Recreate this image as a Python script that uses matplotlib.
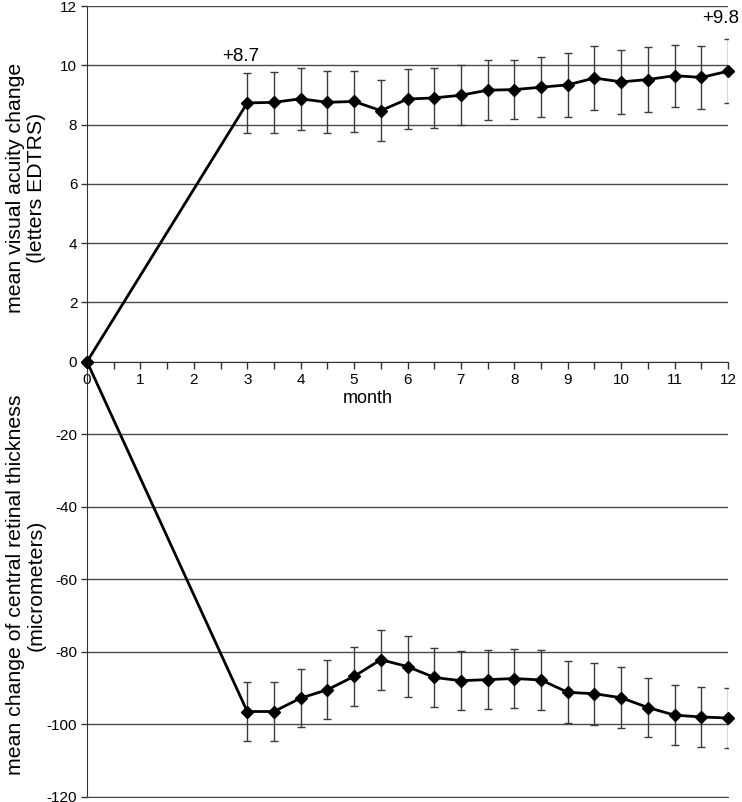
import matplotlib
matplotlib.use("Agg")
import matplotlib.pyplot as plt
import numpy as np
from matplotlib.ticker import MultipleLocator

plt.rcParams['font.family'] = ['Liberation Sans', 'DejaVu Sans']
plt.rcParams['axes.unicode_minus'] = False

# follow-up visits (months); 0 = baseline
months = [0, 3, 3.5, 4, 4.5, 5, 5.5, 6, 6.5, 7, 7.5, 8, 8.5, 9, 9.5, 10, 10.5, 11, 11.5, 12]

# visual acuity change (letters EDTRS) and error bar half widths
va_mean = [0, 8.73, 8.75, 8.87, 8.75, 8.78, 8.47, 8.86, 8.90, 8.99, 9.16,
           9.18, 9.26, 9.34, 9.57, 9.44, 9.52, 9.65, 9.59, 9.80]
va_err = [0, 1.02, 1.02, 1.04, 1.05, 1.02, 1.04, 1.01, 1.02, 1.02, 1.01,
          0.99, 1.02, 1.08, 1.07, 1.09, 1.10, 1.05, 1.06, 1.08]

# central retinal thickness change (micrometers) and error bar half widths
crt_mean = [0, -96.5, -96.5, -92.8, -90.5, -86.8, -82.2, -84.1, -87.1, -88.0, -87.7,
            -87.4, -87.8, -91.2, -91.6, -92.7, -95.4, -97.5, -98.0, -98.3]
crt_err = [0, 8.05, 8.05, 7.95, 8.1, 8.2, 8.3, 8.5, 8.15, 8.15, 8.2,
           8.25, 8.25, 8.5, 8.5, 8.4, 8.25, 8.35, 8.2, 8.2]

va_labels = ["+8.7", "+9.8"]
month_ticks = list(range(0, 13))

fig = plt.figure(figsize=(7.42, 8.02), dpi=100)
left, width = 87 / 742, 641 / 742
zero_y = 1 - 361.7 / 802
ax_top = fig.add_axes([left, zero_y, width, 1 - 6 / 802 - zero_y])
ax_bot = fig.add_axes([left, 1 - 796.7 / 802, width, zero_y - (1 - 796.7 / 802)])

grid_col = '#4a4a4a'
line_kw = dict(color='black', lw=2, marker='D', ms=6, zorder=4, clip_on=False)
err_kw = dict(fmt='none', ecolor='#3a3a3a', elinewidth=1, capsize=3, capthick=1, zorder=3)


def style_axes(ax):
    for side in ['top', 'right']:
        ax.spines[side].set_visible(False)
    ax.spines['left'].set_color('#333333')
    ax.spines['bottom'].set_color('#333333')
    ax.yaxis.grid(True, color=grid_col, lw=1)
    ax.set_axisbelow(True)
    ax.set_xlim(0, 12)
    ax.tick_params(axis='y', direction='out', length=4, width=1, color='#333333',
                   labelsize=11, pad=3)


# top panel: visual acuity
style_axes(ax_top)
ax_top.plot(months, va_mean, **line_kw)
ax_top.errorbar(months[1:], va_mean[1:], yerr=va_err[1:], **err_kw)
ax_top.set_ylim(0, 12)
ax_top.set_yticks(np.arange(0, 13, 2))
ax_top.set_xticks(month_ticks)
ax_top.xaxis.set_minor_locator(MultipleLocator(0.5))
ax_top.tick_params(axis='x', which='both', direction='out', length=5, width=1,
                   color='#333333', labelsize=11, pad=3)
ax_top.set_xlabel("month", fontsize=13)
ax_top.xaxis.set_label_coords((368 - 87) / 641, -0.08)
ax_top.xaxis.label.set_va('top')
ax_top.set_ylabel("mean visual acuity change\n(letters EDTRS)", fontsize=15.3,
                  linespacing=1.1)
ax_top.yaxis.set_label_coords(-0.064, 0.488)
ax_top.text(2.88, 10.3, va_labels[0], fontsize=13.5, ha='center', va='center')
ax_top.text(11.87, 11.57, va_labels[1], fontsize=13.5, ha='center', va='center', clip_on=False)

# bottom panel: central retinal thickness
style_axes(ax_bot)
ax_bot.patch.set_alpha(0)
ax_bot.plot(months, crt_mean, **line_kw)
ax_bot.errorbar(months[1:], crt_mean[1:], yerr=crt_err[1:], **err_kw)
ax_bot.set_ylim(-120, 0)
ax_bot.set_yticks(np.arange(-120, 0, 20))
ax_bot.spines['bottom'].set_color(grid_col)
ax_bot.tick_params(axis='x', which='both', bottom=False, labelbottom=False)
ax_bot.set_ylabel("mean change of central retinal thickness\n(micrometers)", fontsize=15.3,
                  linespacing=1.1)
ax_bot.yaxis.set_label_coords(-0.064, 0.487)

fig.savefig("out.png", dpi=100)
